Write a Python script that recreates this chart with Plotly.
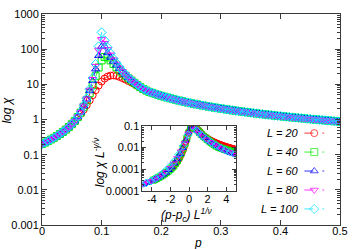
import plotly.graph_objects as go

# ---------------- data ----------------
L_values = [20, 40, 60, 80, 100]
p_step = 0.005
p = [round(i * p_step, 3) for i in range(101)]   # 0 .. 0.5

# common low-p part, p = 0 .. 0.055
chi_left = [0.200, 0.220, 0.243, 0.270, 0.302, 0.340, 0.385, 0.443, 0.515, 0.610, 0.735, 0.90]

# size-dependent part, p = 0.060 .. 0.180
chi_peak_L20 = [1.12, 1.45, 1.9, 2.55, 3.5, 4.9, 6.8, 9.2, 12.0, 14.6, 16.6, 17.7, 18.0, 17.4, 16.3,
                15.0, 13.7, 12.4, 11.3, 10.2, 9.1, 8.1, 7.2, 6.55, 6.05]
chi_peak_L40 = [1.18, 1.57, 2.3, 3.5, 5.6, 9.5, 17, 30, 48, 60, 58, 48, 38, 30.5, 25,
                21, 17.7, 14.9, 12.8, 11.0, 9.5, 8.3, 7.35, 6.65, 6.12]
chi_peak_L60 = [1.19, 1.6, 2.4, 3.75, 6.5, 12.5, 27, 65, 118, 122, 78, 58, 45, 35, 28,
                22.4, 18.5, 15.3, 13.0, 11.1, 9.6, 8.35, 7.4, 6.7, 6.15]
chi_peak_L80 = [1.2, 1.63, 2.45, 3.9, 6.9, 14, 33, 95, 190, 148, 98, 69, 50, 38, 29.4,
                23.4, 19.0, 15.6, 13.2, 11.25, 9.7, 8.4, 7.4, 6.7, 6.15]
chi_peak_L100 = [1.2, 1.65, 2.5, 4.0, 7.2, 15, 38, 120, 300, 178, 112, 76, 54, 40, 30.5,
                 24, 19.3, 15.8, 13.3, 11.3, 9.7, 8.4, 7.4, 6.7, 6.15]

# common high-p tail, p = 0.185 .. 0.5
chi_tail = [5.73, 5.36, 5.02, 4.73, 4.46, 4.22, 4.00, 3.80, 3.62, 3.45, 3.30, 3.16, 3.03, 2.90,
            2.79, 2.69, 2.59, 2.50, 2.41, 2.33, 2.25, 2.18, 2.11, 2.05, 1.99, 1.93, 1.87, 1.82,
            1.77, 1.73, 1.68, 1.64, 1.60, 1.56, 1.52, 1.49, 1.45, 1.42, 1.39, 1.36, 1.33, 1.30,
            1.27, 1.25, 1.22, 1.20, 1.17, 1.15, 1.13, 1.11, 1.09, 1.07, 1.05, 1.03, 1.01, 0.996,
            0.979, 0.963, 0.947, 0.931, 0.916, 0.902, 0.888, 0.874]

chi_peaks = [chi_peak_L20, chi_peak_L40, chi_peak_L60, chi_peak_L80, chi_peak_L100]
chi_series = [chi_left + pk + chi_tail for pk in chi_peaks]

# scaling parameters for the data collapse (inset)
pc = 0.096
nu = 1.0
gamma = 1.75

main_yticks = [0.001, 0.01, 0.1, 1, 10, 100, 1000]
main_ytext = ["0.001", "0.01", "0.1", "1", "10", "100", "1000"]
main_xticks = [0, 0.1, 0.2, 0.3, 0.4, 0.5]
main_xtext = ["0", "0.1", "0.2", "0.3", "0.4", "0.5"]
inset_yticks = [0.0001, 0.001, 0.01, 0.1]
inset_ytext = ["0.0001", "0.001", "0.01", "0.1"]
inset_xticks = [-4, -2, 0, 2, 4]
inset_xtext = ["-4", "-2", "0", "2", "4"]
legend_labels = ["L = 20", "L = 40", "L = 60", "L = 80", "L = 100"]

# ---------------- style ----------------
colors = ["#ff0000", "#00ee00", "#0000ff", "#ff00ff", "#00e5ff"]
symbols = ["circle-open", "square-open", "triangle-up-open", "triangle-down-open", "diamond-open"]
FONT = "Liberation Sans, Arial, sans-serif"
AX = "#3a3a3a"

W, H = 356, 249
ML, MR, MT, MB = 42, 13, 8, 24
PW, PH = W - ML - MR, H - MT - MB


def px(x):
    return (x - ML) / PW


def py(y):
    return (H - MB - y) / PH


fig = go.Figure()

for L, chi, c, s in zip(L_values, chi_series, colors, symbols):
    fig.add_trace(go.Scatter(
        x=p, y=chi, mode="lines+markers", xaxis="x", yaxis="y",
        line=dict(color=c, width=0.8, dash="dash"),
        marker=dict(symbol=s, size=7, color=c, line=dict(width=1, color=c)),
        showlegend=False, hoverinfo="skip"))

for L, chi, c, s in zip(L_values, chi_series, colors, symbols):
    xs = [(pp - pc) * L ** (1 / nu) for pp in p]
    ys = [v * L ** (-gamma / nu) for v in chi]
    fig.add_trace(go.Scatter(
        x=xs, y=ys, mode="lines+markers", xaxis="x2", yaxis="y2",
        line=dict(color=c, width=0.8, dash="dash"),
        marker=dict(symbol=s, size=6, color=c, line=dict(width=1, color=c)),
        showlegend=False, hoverinfo="skip"))

# custom gnuplot-style key: text left, sample right
row_px = [130.5, 150, 169.5, 189, 208.5]
for lab, c, s, ry in zip(legend_labels, colors, symbols, row_px):
    fig.add_trace(go.Scatter(
        x=[px(307), px(317), px(327)], y=[py(ry)] * 3, mode="lines+markers",
        xaxis="x3", yaxis="y3",
        line=dict(color=c, width=0.8, dash="dash"),
        marker=dict(symbol=s, size=[0, 7, 0], color=c, line=dict(width=1, color=c)),
        showlegend=False, hoverinfo="skip"))
    fig.add_annotation(x=px(304), y=py(ry), xref="paper", yref="paper",
                       text="<i>%s</i>" % lab, showarrow=False, xanchor="right",
                       yanchor="middle", font=dict(family=FONT, size=11, color="black"))

axis_common = dict(showline=True, linecolor=AX, linewidth=1, mirror="allticks",
                   ticks="inside", tickcolor=AX, showgrid=False, zeroline=False,
                   tickfont=dict(family=FONT, size=11, color="black"))

fig.update_layout(
    width=W, height=H,
    margin=dict(l=ML, r=MR, t=MT, b=MB, pad=0),
    paper_bgcolor="white", plot_bgcolor="rgba(0,0,0,0)",
    showlegend=False,
    xaxis=dict(domain=[0, 1], range=[0, 0.5], tickvals=main_xticks, ticktext=main_xtext,
               ticklen=5, anchor="y", ticklabelstandoff=-4, **axis_common),
    yaxis=dict(domain=[0, 1], type="log", range=[-3, 3], tickvals=main_yticks,
               ticktext=main_ytext, ticklen=5, anchor="x",
               minor=dict(ticks="inside", ticklen=3, tickcolor=AX, dtick="D1"),
               **axis_common),
    xaxis2=dict(domain=[px(143.5), px(237.5)], range=[-5, 5], tickvals=inset_xticks,
                ticktext=inset_xtext, ticklen=4, anchor="y2", ticklabelstandoff=-2,
                **axis_common),
    yaxis2=dict(domain=[py(190), py(123)], type="log", range=[-4, -1], tickvals=inset_yticks,
                ticktext=inset_ytext, ticklen=4, anchor="x2",
                minor=dict(ticks="inside", ticklen=2, tickcolor=AX, dtick="D1"),
                **axis_common),
    xaxis3=dict(overlaying="x", range=[0, 1], visible=False, anchor="y3"),
    yaxis3=dict(overlaying="y", range=[0, 1], visible=False, anchor="x3"),
)

fig.add_annotation(x=px(7), y=py(107), xref="paper", yref="paper", text="<i>log χ</i>",
                   textangle=-90, showarrow=False, xanchor="center", yanchor="middle",
                   font=dict(family=FONT, size=12, color="black"))
fig.add_annotation(x=px(200), y=py(244), xref="paper", yref="paper", text="<i>p</i>",
                   showarrow=False, xanchor="center", yanchor="middle",
                   font=dict(family=FONT, size=12, color="black"))
fig.add_annotation(x=px(99), y=py(160), xref="paper", yref="paper",
                   text="<i>log χ L<sup>-γ/ν</sup></i>",
                   textangle=-90, showarrow=False, xanchor="center", yanchor="middle",
                   font=dict(family=FONT, size=12, color="black"))
fig.add_annotation(x=px(188), y=py(215), xref="paper", yref="paper",
                   text="<i>(p-p<sub>c</sub>) L<sup>1/ν</sup></i>",
                   showarrow=False, xanchor="center", yanchor="middle",
                   font=dict(family=FONT, size=12, color="black"))

fig.write_html("out.html", config={"displayModeBar": False, "staticPlot": True},
               post_script="document.body.style.margin='0';document.body.style.overflow='hidden';")
